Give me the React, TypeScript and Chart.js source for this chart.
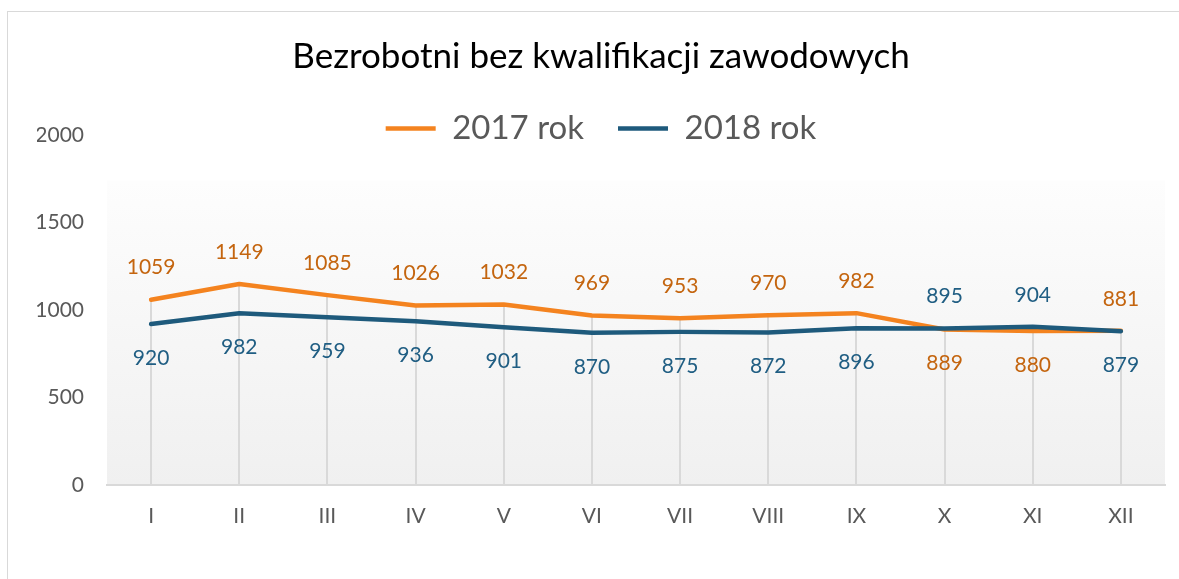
import React, { useEffect, useRef } from "react";
import { Chart, registerables } from "chart.js";

Chart.register(...registerables);

const categories = ["I", "II", "III", "IV", "V", "VI", "VII", "VIII", "IX", "X", "XI", "XII"];
const values2017 = [1059, 1149, 1085, 1026, 1032, 969, 953, 970, 982, 889, 880, 881];
const values2018 = [920, 982, 959, 936, 901, 870, 875, 872, 896, 895, 904, 879];
const labelPos2017 = ["above", "above", "above", "above", "above", "above", "above", "above", "above", "below", "below", "above"];
const labelPos2018 = ["below", "below", "below", "below", "below", "below", "below", "below", "below", "above", "above", "below"];
const seriesNames = ["2017 rok", "2018 rok"];
const yMin = 0;
const yMax = 2000;
const yStep = 500;

const FONT = "Lato";
const ORANGE = "#F4831F";
const ORANGE_TEXT = "#C4650F";
const BLUE = "#1E5A7C";
const BLUE_TEXT = "#205E83";
const GREY_TEXT = "#595959";

const backgroundPlugin = {
  id: "plotBg",
  beforeDraw(chart: any) {
    const { ctx, chartArea } = chart;
    const top = chartArea.top + chartArea.height * 0.13;
    const g = ctx.createLinearGradient(0, top, 0, chartArea.bottom);
    g.addColorStop(0, "#fdfdfd");
    g.addColorStop(1, "#f0f0f0");
    ctx.save();
    ctx.fillStyle = g;
    ctx.fillRect(chartArea.left, top, chartArea.right - chartArea.left, chartArea.bottom - top);
    ctx.restore();
  },
};

const dropLinesPlugin = {
  id: "dropLines",
  beforeDatasetsDraw(chart: any) {
    const { ctx, chartArea } = chart;
    const metas = chart.data.datasets.map((_: any, i: number) => chart.getDatasetMeta(i));
    const n = chart.data.labels.length;
    ctx.save();
    ctx.strokeStyle = "#d9d9d9";
    ctx.lineWidth = 2;
    for (let i = 0; i < n; i++) {
      let minY = Infinity;
      let x = 0;
      metas.forEach((m: any) => {
        const el = m.data[i];
        if (el && el.y < minY) {
          minY = el.y;
          x = el.x;
        }
      });
      ctx.beginPath();
      ctx.moveTo(Math.round(x), minY);
      ctx.lineTo(Math.round(x), chartArea.bottom);
      ctx.stroke();
    }
    ctx.restore();
  },
};

const dataLabelsPlugin = {
  id: "dataLabels",
  afterDatasetsDraw(chart: any) {
    const { ctx } = chart;
    const cfg = [
      { pos: labelPos2017, color: ORANGE_TEXT },
      { pos: labelPos2018, color: BLUE_TEXT },
    ];
    ctx.save();
    ctx.font = `21px ${FONT}`;
    ctx.textAlign = "center";
    ctx.textBaseline = "middle";
    chart.data.datasets.forEach((ds: any, di: number) => {
      const meta = chart.getDatasetMeta(di);
      ctx.fillStyle = cfg[di].color;
      meta.data.forEach((el: any, i: number) => {
        const dy = cfg[di].pos[i] === "above" ? -32 : 34;
        ctx.fillText(String(ds.data[i]), el.x, el.y + dy);
      });
    });
    ctx.restore();
  },
};

const legendClipPlugin = {
  id: "legendClipFix",
  afterLayout(chart: any) {
    if (chart.legend) {
      chart.legend.bottom = chart.legend.bottom + 20;
    }
  },
};

export default function App() {
  const ref = useRef<HTMLCanvasElement>(null);

  useEffect(() => {
    if (!ref.current) return;
    const chart = new Chart(ref.current, {
      type: "line",
      data: {
        labels: categories,
        datasets: [
          {
            label: seriesNames[0],
            data: values2017,
            borderColor: ORANGE,
            backgroundColor: ORANGE,
            borderWidth: 4.5,
            borderCapStyle: "round",
            borderJoinStyle: "round",
            pointRadius: 0,
            tension: 0,
            order: 2,
          },
          {
            label: seriesNames[1],
            data: values2018,
            borderColor: BLUE,
            backgroundColor: BLUE,
            borderWidth: 4.5,
            borderCapStyle: "round",
            borderJoinStyle: "round",
            pointRadius: 0,
            tension: 0,
            order: 1,
          },
        ],
      },
      options: {
        animation: false,
        responsive: false,
        maintainAspectRatio: false,
        layout: { padding: { left: 37, right: 14, top: 0, bottom: 10 } },
        plugins: {
          tooltip: { enabled: false },
          title: {
            display: true,
            text: "Bezrobotni bez kwalifikacji zawodowych",
            color: "#000000",
            font: { family: FONT, size: 35, weight: "normal" },
            padding: { top: 36, bottom: 0 },
          },
          legend: {
            display: true,
            position: "top",
            maxHeight: 57,
            labels: {
              color: GREY_TEXT,
              font: { family: FONT, size: 33 },
              usePointStyle: true,
              pointStyle: "line",
              pointStyleWidth: 50,
              padding: 34,
              sort: (a: any, b: any) => a.datasetIndex - b.datasetIndex,
            },
          },
        },
        scales: {
          x: {
            offset: true,
            grid: { display: false, drawTicks: false },
            border: { display: true, color: "#d9d9d9", width: 2 },
            ticks: {
              color: GREY_TEXT,
              font: { family: FONT, size: 21 },
              padding: 18.5,
              maxRotation: 0,
              autoSkip: false,
            },
            afterFit(scale: any) {
              scale.height = 84;
            },
          },
          y: {
            min: yMin,
            max: yMax,
            grid: { display: false, drawTicks: false },
            border: { display: false },
            ticks: {
              stepSize: yStep,
              color: GREY_TEXT,
              font: { family: FONT, size: 21 },
              padding: 23,
              callback: (v: any) => String(v),
            },
            afterFit(scale: any) {
              scale.width = 70;
            },
          },
        },
      },
      plugins: [backgroundPlugin, dropLinesPlugin, dataLabelsPlugin, legendClipPlugin],
    });
    return () => chart.destroy();
  }, []);

  return (
    <div style={{ position: "absolute", left: 0, top: 0, width: 1179, height: 579, background: "#ffffff" }}>
      <div
        style={{
          position: "absolute",
          left: 7,
          top: 11,
          right: -5,
          bottom: -5,
          borderLeft: "1.5px solid #d9d9d9",
          borderTop: "1.5px solid #d9d9d9",
        }}
      />
      <canvas ref={ref} width={1179} height={579} style={{ position: "absolute", left: 0, top: 0 }} />
    </div>
  );
}
